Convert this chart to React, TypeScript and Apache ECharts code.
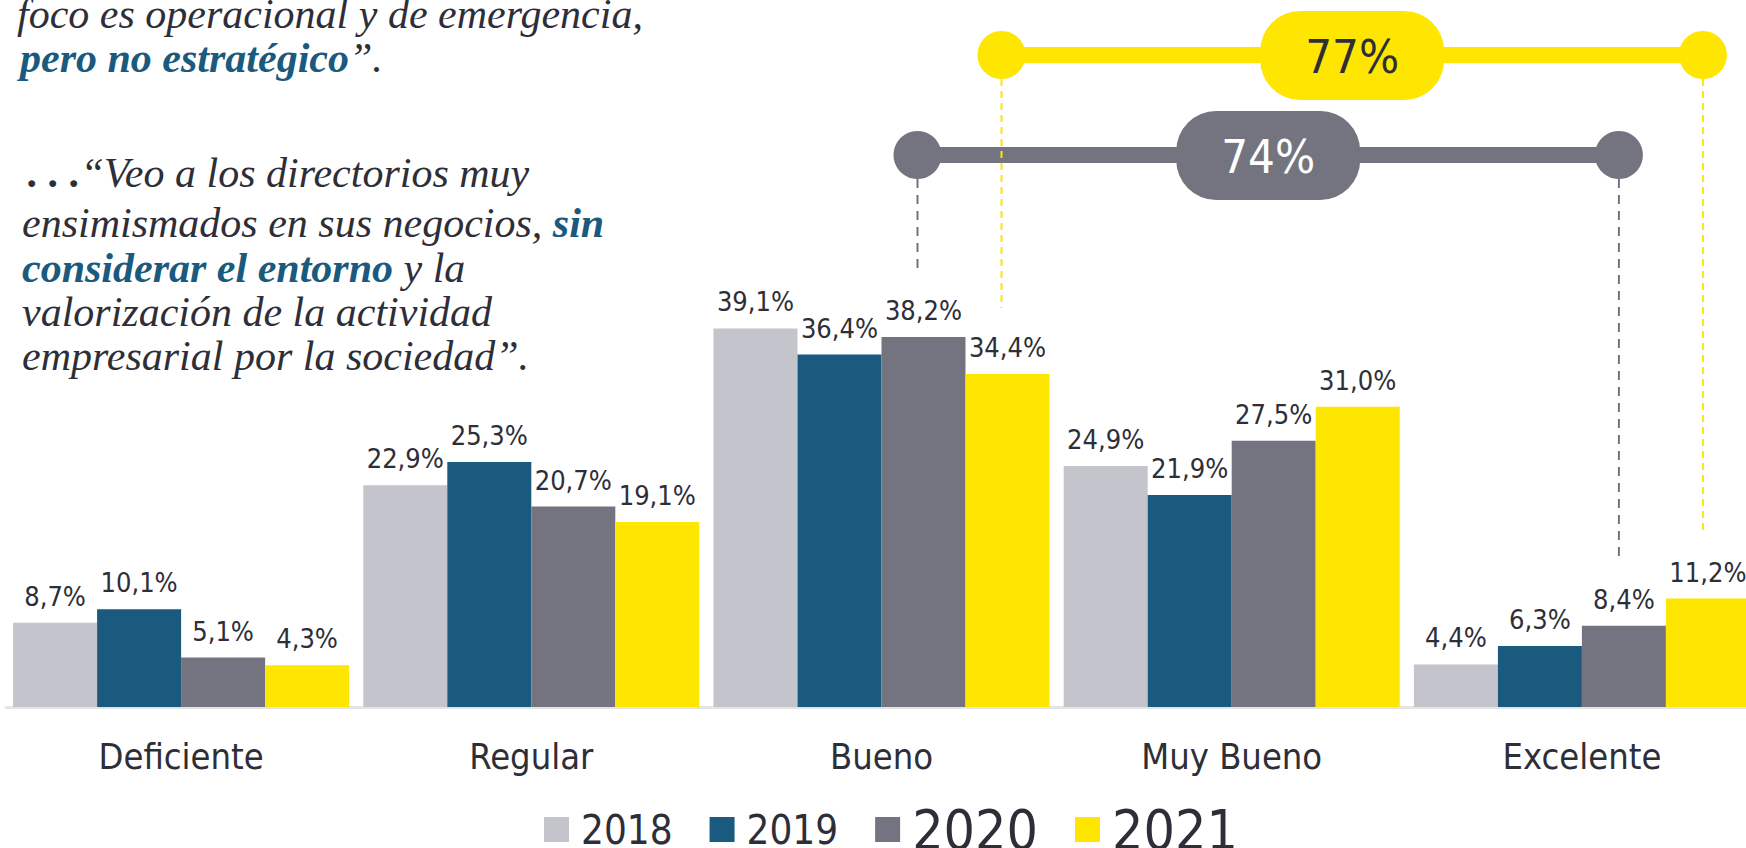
import React, { useEffect, useRef } from "react";
import * as echarts from "echarts";

const categories = ["Deficiente", "Regular", "Bueno", "Muy Bueno", "Excelente"];
const years = ["2018", "2019", "2020", "2021"];
const v2018 = [8.7, 22.9, 39.1, 24.9, 4.4];
const v2019 = [10.1, 25.3, 36.4, 21.9, 6.3];
const v2020 = [5.1, 20.7, 38.2, 27.5, 8.4];
const v2021 = [4.3, 19.1, 34.4, 31.0, 11.2];
const seriesValues = [v2018, v2019, v2020, v2021];
const colors = ["#c4c4cd", "#1a5a7e", "#747480", "#ffe600"];
const legendFontSizes = [40, 40, 55, 55];
// brackets: categories summed (Bueno..Excelente)
const bracketCats = [2, 3, 4];

const quoteLines: { t: string; s: string }[][] = [
  [{ t: "foco es operacional y de emergencia,", s: "n" }],
  [{ t: "pero no estratégico", s: "b" }, { t: "”.", s: "n" }],
  [{ t: ". . .", s: "d" }, { t: "“Veo a los directorios muy", s: "n" }],
  [{ t: "ensimismados en sus negocios, ", s: "n" }, { t: "sin", s: "b" }],
  [{ t: "considerar el entorno", s: "b" }, { t: " y la", s: "n" }],
  [{ t: "valorización de la actividad", s: "n" }],
  [{ t: "empresarial por la sociedad”.", s: "n" }],
];

const DARK = "#2e2e38";
const BLUE = "#1a5a7e";
const SANS = "'DejaVu Sans Condensed', 'DejaVu Sans', sans-serif";
const SERIF = "'Liberation Serif', serif";
const BAR_W = 84;

const fmt = (v: number) => v.toFixed(1).replace(".", ",") + "%";

export default function App() {
  const ref = useRef<HTMLDivElement>(null);

  useEffect(() => {
    document.body.style.margin = "0";
    const chart = echarts.init(ref.current!, null, { renderer: "svg" });
    chart.setOption({
      animation: false,
      backgroundColor: "#ffffff",
      grid: {
        left: 6,
        width: 1751,
        top: 126,
        bottom: 141,
        outerBoundsMode: "none",
        containLabel: false,
      },
      legend: {
        left: 544,
        top: 802,
        padding: 0,
        itemWidth: 25,
        itemHeight: 25,
        itemGap: 37,
        icon: "rect",
        data: years.map((y, i) => ({
          name: y,
          textStyle: {
            fontSize: legendFontSizes[i],
            fontFamily: SANS,
            color: DARK,
            padding: i === 1 ? [0, 9, 0, 7] : [0, 0, 0, 7],
          },
        })),
      },
      xAxis: {
        type: "category",
        data: categories,
        axisLine: { show: true, lineStyle: { color: "#e4e4e4", width: 3 } },
        axisTick: { show: false },
        axisLabel: {
          fontSize: 36,
          fontFamily: SANS,
          color: DARK,
          margin: 31,
        },
      },
      yAxis: {
        type: "value",
        min: 0,
        max: 60,
        show: false,
        splitLine: { show: false },
      },
      series: years.map((y, i) => ({
        name: y,
        type: "bar",
        data: seriesValues[i],
        barWidth: BAR_W,
        barGap: "0%",
        itemStyle: { color: colors[i] },
        label: {
          show: true,
          position: "top",
          distance: 13,
          fontSize: 27,
          fontFamily: SANS,
          color: DARK,
          formatter: (p: any) => fmt(p.value),
        },
      })),
    });

    // Quote text (baselines 26, 70, 185, 235, 280, 324, 368)
    const lineY = [14, 58, 173, 223, 268, 312, 356];
    const lineX = [17, 20, 28, 22, 22, 22, 22];
    const FS = 42;
    const rich = {
      n: { fontFamily: SERIF, fontStyle: "italic", fontSize: FS, fill: DARK },
      b: { fontFamily: SERIF, fontStyle: "italic", fontWeight: "bold", fontSize: FS, fill: BLUE },
      d: { fontFamily: SERIF, fontStyle: "italic", fontWeight: "bold", fontSize: FS, fill: DARK },
    };
    const textEls = quoteLines.map((segs, i) => ({
      type: "text",
      x: lineX[i],
      y: lineY[i],
      silent: true,
      style: {
        text: segs.map((s) => `{${s.s}|${s.t}}`).join(""),
        rich,
        verticalAlign: "middle",
        align: "left",
        fill: DARK,
      },
    }));

    // Brackets
    const barCenter = (cat: number, s: number) =>
      (chart.convertToPixel({ gridIndex: 0 }, [cat, 0]) as number[])[0] + (s - 1.5) * BAR_W;
    const barTop = (cat: number, s: number) =>
      (chart.convertToPixel({ gridIndex: 0 }, [cat, seriesValues[s][cat]]) as number[])[1];

    const makeBracket = (s: number, y: number, color: string, textColor: string, dash: number[]) => {
      const first = bracketCats[0];
      const last = bracketCats[bracketCats.length - 1];
      const x1 = barCenter(first, s) - 6;
      const x2 = barCenter(last, s) - 5;
      const total = Math.round(bracketCats.reduce((a, c) => a + seriesValues[s][c], 0));
      const mid = (x1 + x2) / 2;
      const els: any[] = [];
      [
        [x1, first],
        [x2, last],
      ].forEach(([x, c]) => {
        els.push({
          type: "line",
          silent: true,
          shape: { x1: x, y1: y + 24, x2: x, y2: barTop(c, s) - 66 },
          style: { stroke: color, lineWidth: 2, lineDash: dash },
        });
      });
      els.push({
        type: "line",
        silent: true,
        shape: { x1, y1: y, x2, y2: y },
        style: { stroke: color, lineWidth: 16 },
      });
      els.push({ type: "circle", silent: true, shape: { cx: x1, cy: y, r: 24 }, style: { fill: color } });
      els.push({ type: "circle", silent: true, shape: { cx: x2, cy: y, r: 24 }, style: { fill: color } });
      els.push({
        type: "rect",
        silent: true,
        shape: { x: mid - 92, y: y - 44, width: 184, height: 89, r: 40 },
        style: { fill: color },
      });
      els.push({
        type: "text",
        silent: true,
        x: mid,
        y: y + 1,
        style: {
          text: total + "%",
          fontSize: 47,
          fontFamily: SANS,
          fill: textColor,
          align: "center",
          verticalAlign: "middle",
        },
      });
      return els;
    };

    const bracketEls = [
      ...makeBracket(2, 155, colors[2], "#ffffff", [9, 7]),
      ...makeBracket(3, 55, colors[3], DARK, [7, 5]),
    ];

    chart.setOption({ graphic: [...textEls, ...bracketEls] });

    return () => chart.dispose();
  }, []);

  return (
    <div
      ref={ref}
      style={{ position: "absolute", left: 0, top: 0, width: 1746, height: 848 }}
    />
  );
}
